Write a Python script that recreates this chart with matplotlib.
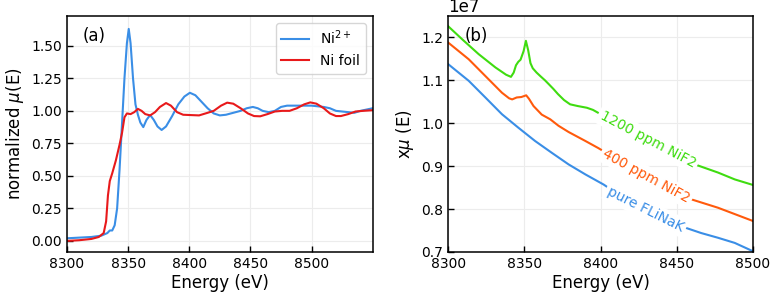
import matplotlib
matplotlib.use('Agg')
import matplotlib.pyplot as plt
import numpy as np

# (a) normalized XANES
ni2_E = [8300, 8310, 8320, 8328, 8333, 8335, 8337, 8339, 8341, 8343, 8345, 8347, 8349, 8350.5,
         8352, 8354, 8356, 8358, 8360, 8362.4, 8365, 8368, 8371, 8374, 8377.4, 8381, 8386,
         8391, 8396, 8400.5, 8405, 8410, 8415, 8420, 8425, 8430, 8436, 8442, 8447, 8452,
         8456, 8460, 8465, 8470, 8475, 8480, 8490, 8500, 8510, 8515, 8520, 8525, 8530,
         8535, 8540, 8545, 8550]
ni2_mu = [0.02, 0.025, 0.03, 0.04, 0.06, 0.08, 0.08, 0.12, 0.25, 0.55, 0.9, 1.25, 1.52, 1.63,
          1.52, 1.25, 1.05, 0.97, 0.91, 0.875, 0.93, 0.968, 0.93, 0.88, 0.853, 0.88, 0.96,
          1.05, 1.11, 1.139, 1.12, 1.07, 1.02, 0.98, 0.965, 0.97, 0.985, 1.0, 1.02, 1.03,
          1.02, 1.0, 0.99, 1.0, 1.03, 1.04, 1.04, 1.04, 1.03, 1.02, 1.0, 0.995, 0.99,
          0.985, 1.0, 1.01, 1.02]

foil_E = [8300, 8310, 8320, 8326, 8330, 8332, 8333.5, 8335, 8337, 8340, 8343, 8345, 8347,
          8349, 8352, 8355, 8358, 8361, 8364, 8368, 8372, 8376, 8381, 8385, 8390, 8395,
          8400, 8408, 8415, 8420, 8426, 8431, 8436, 8442, 8448, 8453, 8458, 8464, 8470,
          8476, 8482, 8488, 8494, 8499, 8504, 8510, 8515, 8520, 8524, 8530, 8536, 8542, 8550]
foil_mu = [0.0, 0.005, 0.015, 0.03, 0.06, 0.15, 0.35, 0.46, 0.52, 0.62, 0.74, 0.83, 0.95,
           0.98, 0.975, 0.99, 1.015, 1.0, 0.975, 0.965, 0.99, 1.03, 1.06, 1.04, 0.99, 0.97,
           0.968, 0.965, 0.985, 1.0, 1.04, 1.063, 1.055, 1.02, 0.98, 0.96, 0.958, 0.975, 0.995,
           1.0, 1.0, 1.02, 1.05, 1.065, 1.055, 1.02, 0.98, 0.96, 0.96, 0.975, 0.995, 1.0, 1.005]

# (b) raw x*mu, units of 1e7
g_E = [8300, 8310, 8320, 8331, 8338, 8341.2, 8343, 8344.5, 8346, 8347.5, 8349.5, 8351,
       8352.5, 8354, 8355.5, 8358, 8361, 8363.5, 8366, 8369, 8372, 8376, 8380, 8385, 8391,
       8395, 8400, 8415, 8431, 8447, 8463, 8477, 8488, 8500]
g_mu = [1.226, 1.193, 1.161, 1.13, 1.113, 1.108, 1.118, 1.135, 1.143, 1.148, 1.168, 1.192,
        1.17, 1.14, 1.128, 1.118, 1.108, 1.1, 1.091, 1.08, 1.068, 1.054, 1.044, 1.040, 1.036,
        1.031, 1.021, 0.992, 0.962, 0.932, 0.9025, 0.885, 0.869, 0.856]

o_E = [8300, 8313.5, 8324.4, 8335.3, 8340, 8342, 8345, 8348, 8351.2, 8353, 8356, 8361.4,
       8367, 8372.4, 8379, 8390, 8398.5, 8415, 8430, 8445, 8460, 8477, 8500]
o_mu = [1.188, 1.149, 1.110, 1.071, 1.058, 1.0555, 1.060, 1.061, 1.065, 1.057, 1.040, 1.020,
        1.009, 0.994, 0.9795, 0.9586, 0.942, 0.907, 0.877, 0.849, 0.822, 0.803, 0.772]

p_E = [8300, 8313.5, 8324.4, 8335.3, 8346, 8357, 8368, 8379, 8390, 8402, 8415, 8429.5,
       8443, 8456, 8466, 8477, 8488, 8500]
p_mu = [1.1377, 1.0988, 1.06, 1.0209, 0.9897, 0.9586, 0.931, 0.904, 0.8807, 0.857, 0.826,
        0.799, 0.776, 0.756, 0.744, 0.733, 0.721, 0.7015]

blue = '#3a8ee6'
red = '#e8191b'
green = '#3fdc10'
orange = '#ff5a0c'


def inline_label(ax, x, y, xpos, text, color):
    ypos = np.interp(xpos, x, y)
    d = 3.0
    p1 = ax.transData.transform((xpos - d, np.interp(xpos - d, x, y)))
    p2 = ax.transData.transform((xpos + d, np.interp(xpos + d, x, y)))
    ang = np.degrees(np.arctan2(p2[1] - p1[1], p2[0] - p1[0]))
    ax.text(xpos, ypos, text, color=color, fontsize=10, rotation=ang,
            rotation_mode='anchor', ha='center', va='center', zorder=5,
            bbox=dict(facecolor='white', edgecolor='none', pad=2.0))


def style(ax):
    ax.grid(True, color='#ececec', lw=0.8)
    ax.set_axisbelow(True)
    ax.tick_params(direction='in', length=4.5, width=1, labelsize=10)
    for s in ax.spines.values():
        s.set_linewidth(1.1)


fig = plt.figure(figsize=(7.7, 2.95), dpi=100)
ax1 = fig.add_axes([0.087, 0.146, 0.397, 0.8])
ax2 = fig.add_axes([0.582, 0.146, 0.396, 0.8])

ax1.plot(ni2_E, ni2_mu, color=blue, lw=1.5, label='Ni$^{2+}$')
ax1.plot(foil_E, foil_mu, color=red, lw=1.5, label='Ni foil')
ax1.set_xlim(8300, 8550)
ax1.set_ylim(-0.085, 1.73)
ax1.set_xticks([8300, 8350, 8400, 8450, 8500])
ax1.set_yticks(np.arange(0, 1.51, 0.25))
ax1.yaxis.set_major_formatter(matplotlib.ticker.FormatStrFormatter('%.2f'))
ax1.set_xlabel('Energy (eV)', fontsize=12, labelpad=2)
ax1.set_ylabel('normalized $\\mu$(E)', fontsize=12)
ax1.legend(loc='upper right', fontsize=10)
ax1.text(0.05, 0.915, '(a)', transform=ax1.transAxes, fontsize=12, va='center')
style(ax1)

ax2.plot(g_E, np.array(g_mu) * 1e7, color=green, lw=1.5)
ax2.plot(o_E, np.array(o_mu) * 1e7, color=orange, lw=1.5)
ax2.plot(p_E, np.array(p_mu) * 1e7, color=blue, lw=1.5)
ax2.set_xlim(8300, 8500)
ax2.set_ylim(0.7e7, 1.25e7)
ax2.set_xticks([8300, 8350, 8400, 8450, 8500])
ax2.set_xlabel('Energy (eV)', fontsize=12, labelpad=2)
ax2.set_ylabel('x$\\mu$ (E)', fontsize=12)
ax2.yaxis.get_offset_text().set_fontsize(12)
ax2.text(0.053, 0.915, '(b)', transform=ax2.transAxes, fontsize=12, va='center')
style(ax2)

inline_label(ax2, g_E, np.array(g_mu) * 1e7, 8431, '1200 ppm NiF2', green)
inline_label(ax2, o_E, np.array(o_mu) * 1e7, 8430, '400 ppm NiF2', orange)
inline_label(ax2, p_E, np.array(p_mu) * 1e7, 8429.5, 'pure FLiNaK', blue)

fig.savefig('out.png', dpi=100)
